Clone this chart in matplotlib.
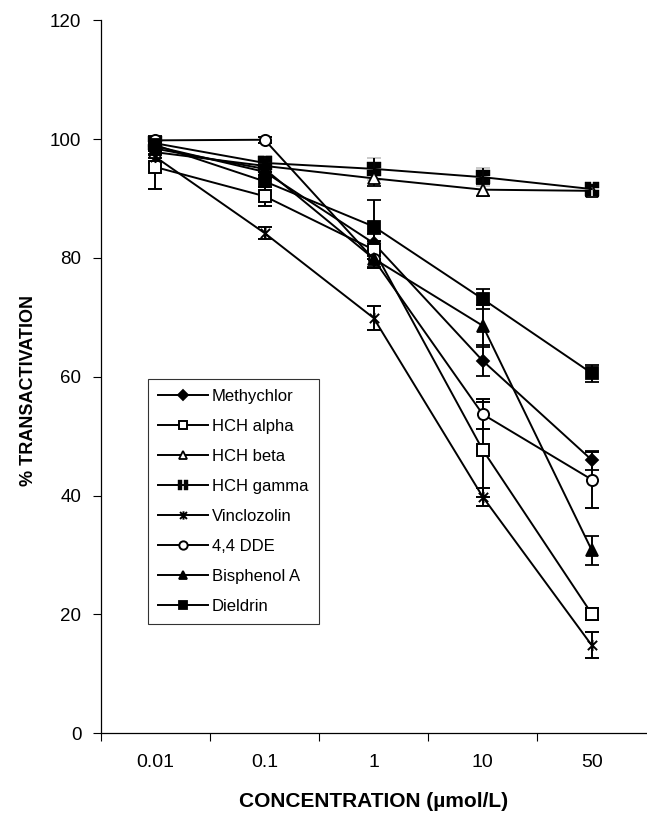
import matplotlib
matplotlib.use("Agg")
import matplotlib.pyplot as plt
from matplotlib.path import Path
from matplotlib.lines import Line2D
import numpy as np

plt.rcParams['font.family'] = ['Liberation Sans', 'DejaVu Sans']

categories = ["0.01", "0.1", "1", "10", "50"]
series_names = ["Methychlor", "HCH alpha", "HCH beta", "HCH gamma",
                "Vinclozolin", "4,4 DDE", "Bisphenol A", "Dieldrin"]

methychlor = [98.8, 94.5, 82.5, 62.7, 46.0]
hch_alpha = [95.3, 90.4, 81.4, 47.7, 20.1]
hch_beta = [97.8, 95.5, 93.4, 91.5, 91.3]
hch_gamma = [99.3, 96.0, 95.0, 93.6, 91.6]
vinclozolin = [97.0, 84.2, 69.9, 39.8, 14.8]
dde = [99.8, 99.9, 79.8, 53.7, 42.7]
bisphenol = [98.4, 95.0, 79.9, 68.6, 30.8]
dieldrin = [99.0, 92.9, 85.3, 73.1, 60.6]

err_methychlor = [0.8, 1.0, 1.5, 2.6, 1.6]
err_hch_alpha = [3.7, 1.6, 1.5, 8.0, 1.0]
err_hch_beta = [1.0, 1.0, 1.2, 1.0, 0.8]
err_hch_gamma = [1.2, 1.2, 1.8, 1.5, 0.8]
err_vinclozolin = [1.0, 1.0, 2.0, 1.5, 2.2]
err_dde = [0.5, 0.5, 1.5, 2.5, 4.7]
err_bisphenol = [1.0, 1.0, 1.5, 3.5, 2.4]
err_dieldrin = [1.5, 1.0, 4.4, 1.7, 1.4]

values = [methychlor, hch_alpha, hch_beta, hch_gamma, vinclozolin, dde, bisphenol, dieldrin]
errors = [err_methychlor, err_hch_alpha, err_hch_beta, err_hch_gamma,
          err_vinclozolin, err_dde, err_bisphenol, err_dieldrin]

# custom markers
star_path = Path([(-1, -1), (1, 1), (-1, 1), (1, -1), (0, -1.2), (0, 1.2)],
                 [Path.MOVETO, Path.LINETO, Path.MOVETO, Path.LINETO, Path.MOVETO, Path.LINETO])
def rect(x0, y0, x1, y1):
    return Path([(x0, y0), (x1, y0), (x1, y1), (x0, y1), (x0, y0)],
                [Path.MOVETO, Path.LINETO, Path.LINETO, Path.LINETO, Path.CLOSEPOLY])
g = 0.16
quad_path = Path.make_compound_path(rect(-1, -1, -g, -g), rect(g, -1, 1, -g),
                                    rect(-1, g, -g, 1), rect(g, g, 1, 1))

styles = [
    dict(marker='D', mfc='black', ms=6.5, mew=1.3),
    dict(marker='s', mfc='white', ms=8, mew=1.4),
    dict(marker='^', mfc='white', ms=8, mew=1.3),
    dict(marker=quad_path, mfc='black', ms=9.5, mew=0.3),
    dict(marker=star_path, mfc='none', ms=8, mew=1.4),
    dict(marker='o', mfc='white', ms=8, mew=1.4),
    dict(marker='^', mfc='black', ms=8, mew=1.3),
    dict(marker='s', mfc='black', ms=8, mew=1.3),
]

fig = plt.figure(figsize=(6.47, 8.13), dpi=100)
ax = fig.add_axes([0.156, 0.098, 0.843, 0.877])

x = np.arange(len(categories))
handles = []
for name, v, e, st in zip(series_names, values, errors, styles):
    ax.errorbar(x, v, yerr=e, color='black', lw=1.4, capsize=5, capthick=1.4,
                elinewidth=1.4, marker=st['marker'], mfc=st['mfc'], mec='black',
                mew=st['mew'], ms=st['ms'], zorder=3)
    handles.append(Line2D([], [], color='black', lw=1.4, marker=st['marker'],
                          mfc=st['mfc'], mec='black', mew=st['mew'], ms=st['ms'] * 0.75))

ax.set_xlim(-0.5, len(categories) - 0.5)
ax.set_ylim(0, 120)
ax.set_yticks(np.arange(0, 121, 20))
ax.set_xticks(np.arange(-0.5, len(categories) - 0.5, 1.0))
ax.set_xticklabels([])
ax.set_xticks(x, minor=True)
ax.set_xticklabels(categories, minor=True)
ax.tick_params(axis='x', which='major', length=6, direction='out', width=0.8)
ax.tick_params(axis='x', which='minor', length=0, pad=15, labelsize=14)
ax.tick_params(axis='y', length=6, direction='out', width=0.8, labelsize=13.5, pad=8)

for s in ['top', 'right']:
    ax.spines[s].set_visible(False)
for s in ['left', 'bottom']:
    ax.spines[s].set_linewidth(0.9)

ax.set_ylabel('% TRANSACTIVATION', fontsize=13, fontweight='bold')
ax.yaxis.set_label_coords(-0.118, 0.481)
ax.set_xlabel('CONCENTRATION (µmol/L)', fontsize=15, fontweight='bold')
ax.xaxis.set_label_coords(0.5, -0.082)

leg = ax.legend(handles=handles, labels=series_names, loc='upper left',
                bbox_to_anchor=(0.086, 0.497), frameon=True, fancybox=False,
                edgecolor='black', fontsize=12, handlelength=3.0,
                handletextpad=0.25, labelspacing=0.9, borderpad=0.6, borderaxespad=0)
leg.get_frame().set_linewidth(0.8)

fig.savefig('out.png', dpi=100)
